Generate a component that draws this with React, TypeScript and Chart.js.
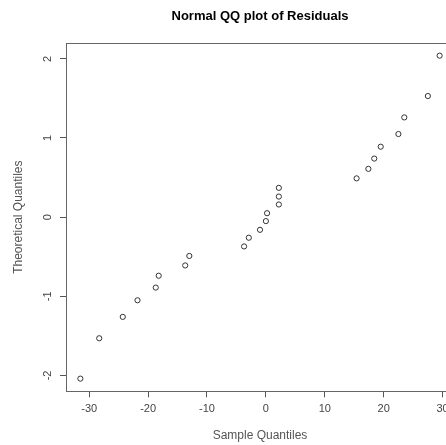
import { useEffect, useRef } from "react";
import { Chart, registerables } from "chart.js";
Chart.register(...registerables);

const sampleQuantiles = [-31.5, -28.3, -24.3, -21.8, -18.7, -18.2, -13.7, -13.0, -3.7, -2.9, -1.0, 0.0, 0.2, 2.2, 2.2, 2.2, 15.4, 17.4, 18.4, 19.5, 22.5, 23.5, 27.5, 29.5];
const theoreticalQuantiles = [-2.04, -1.53, -1.26, -1.05, -0.89, -0.74, -0.61, -0.49, -0.37, -0.26, -0.16, -0.05, 0.05, 0.16, 0.26, 0.37, 0.49, 0.61, 0.74, 0.89, 1.05, 1.26, 1.53, 2.04];
const xTickValues = [-30, -20, -10, 0, 10, 20, 30];
const yTickValues = [-2, -1, 0, 1, 2];
const xRange = [-33.94, 31.94];
const yRange = [-2.2, 2.2];

const boxPlugin = {
  id: "plotBox",
  afterDatasetsDraw(chart: any) {
    const { ctx, chartArea } = chart;
    ctx.save();
    ctx.strokeStyle = "#666";
    ctx.lineWidth = 1;
    ctx.strokeRect(
      Math.round(chartArea.left) + 0.5,
      Math.round(chartArea.top) + 0.5,
      Math.round(chartArea.right - chartArea.left),
      Math.round(chartArea.bottom - chartArea.top)
    );
    ctx.restore();
  },
};

export default function App() {
  const ref = useRef<HTMLCanvasElement | null>(null);
  useEffect(() => {
    document.body.style.margin = "0";
    const canvas = ref.current!;
    const chart = new Chart(canvas, {
      type: "scatter",
      data: {
        datasets: [
          {
            data: sampleQuantiles.map((x, i) => ({ x, y: theoreticalQuantiles[i] })),
            pointStyle: "circle",
            pointRadius: 2.6,
            pointBorderWidth: 1,
            borderColor: "#333",
            backgroundColor: "rgba(255,255,255,0)",
          },
        ],
      },
      options: {
        animation: false,
        responsive: false,
        layout: { padding: { left: 0, right: 16, top: 0, bottom: 0 } },
        plugins: {
          legend: { display: false },
          tooltip: { enabled: false },
          title: {
            display: true,
            text: "Normal QQ plot of Residuals",
            fullSize: false,
            color: "#000",
            font: { family: "Liberation Sans", size: 13, weight: "bold" },
            padding: { top: 9, bottom: 18.4 },
          },
        },
        scales: {
          x: {
            type: "linear",
            min: xRange[0],
            max: xRange[1],
            afterBuildTicks: (s: any) => {
              s.ticks = xTickValues.map((v) => ({ value: v }));
            },
            afterFit: (s: any) => {
              s.height = 53.7;
            },
            grid: { drawOnChartArea: false, drawTicks: true, tickLength: 6, color: "#555" },
            border: { display: false },
            ticks: {
              color: "#444",
              font: { family: "Liberation Sans", size: 11 },
              padding: 5,
              maxRotation: 0,
              minRotation: 0,
              autoSkip: false,
            },
            title: {
              display: true,
              text: "Sample Quantiles",
              color: "#555",
              font: { family: "Liberation Sans", size: 12 },
              padding: { top: 0, bottom: 2 },
            },
          },
          y: {
            type: "linear",
            min: yRange[0],
            max: yRange[1],
            afterBuildTicks: (s: any) => {
              s.ticks = yTickValues.map((v) => ({ value: v }));
            },
            afterFit: (s: any) => {
              s.width = 66;
            },
            grid: { drawOnChartArea: false, drawTicks: true, tickLength: 6, color: "#555" },
            border: { display: false },
            ticks: {
              color: "#444",
              font: { family: "Liberation Sans", size: 11 },
              padding: 7,
              minRotation: 90,
              maxRotation: 90,
              crossAlign: "center",
              autoSkip: false,
            },
            title: {
              display: true,
              text: "Theoretical Quantiles",
              color: "#555",
              font: { family: "Liberation Sans", size: 12 },
              padding: { top: 11, bottom: 0 },
            },
          },
        },
      },
      plugins: [boxPlugin],
    } as any);
    return () => chart.destroy();
  }, []);
  return (
    <div style={{ width: 446, height: 445, overflow: "hidden", position: "relative", background: "#fff" }}>
      <canvas ref={ref} width={470} height={445} style={{ display: "block" }} />
    </div>
  );
}
